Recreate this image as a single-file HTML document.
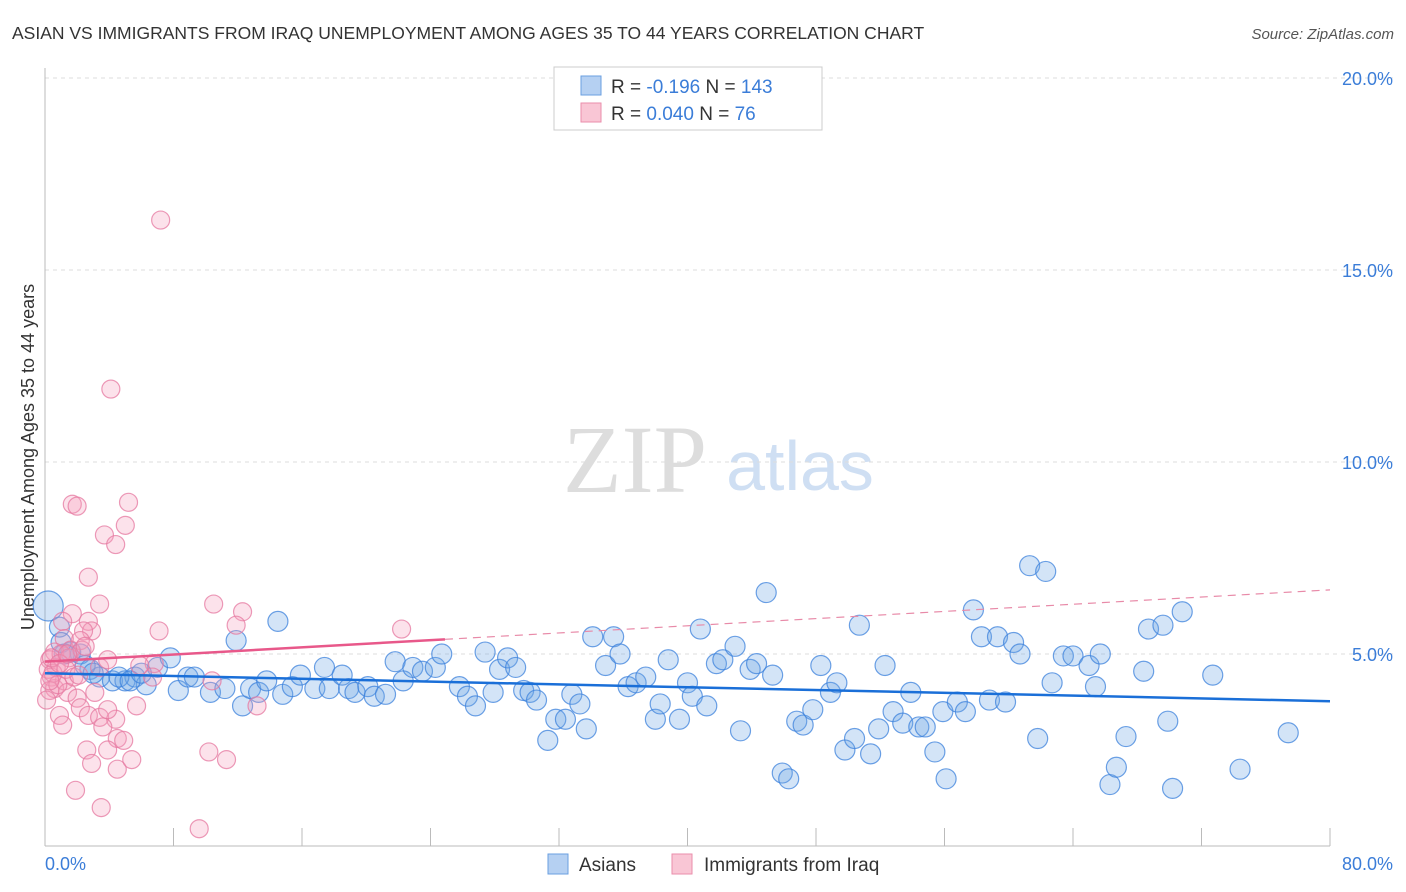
<!DOCTYPE html>
<html><head><meta charset="utf-8"><style>
body{margin:0;background:#fff;font-family:"Liberation Sans",sans-serif;}
svg{display:block}
</style></head><body>
<svg width="1406" height="892" id="chart">
<text x="12" y="39" font-size="17.5" fill="#333">ASIAN VS IMMIGRANTS FROM IRAQ UNEMPLOYMENT AMONG AGES 35 TO 44 YEARS CORRELATION CHART</text>
<text x="1394" y="39" font-size="15" fill="#555" font-style="italic" text-anchor="end">Source: ZipAtlas.com</text>
<text x="635" y="492" font-size="96" fill="#ddd" font-family="Liberation Serif,serif" text-anchor="middle">ZIP</text>
<text x="800" y="490" font-size="70" fill="#cfdff3" text-anchor="middle">atlas</text>
<text transform="translate(34,457) rotate(-90)" font-size="18" fill="#333" text-anchor="middle">Unemployment Among Ages 35 to 44 years</text>
<g id="grid"></g><g id="axes"></g><g id="pts"></g><g id="lines"></g>
<g>
<rect x="554" y="67" width="268" height="63" fill="#fff" stroke="#ccc"/>
<rect x="581" y="76" width="20" height="19" fill="#b5d0f2" stroke="#6a9fe0"/>
<rect x="581" y="103" width="20" height="19" fill="#f9c6d5" stroke="#ea8eab"/>
<text x="611" y="93" font-size="19" fill="#333">R = <tspan fill="#3b7dd8">-0.196</tspan>   N = <tspan fill="#3b7dd8">143</tspan></text>
<text x="611" y="120" font-size="19" fill="#333">R = <tspan fill="#3b7dd8">0.040</tspan>   N =  <tspan fill="#3b7dd8"> 76</tspan></text>
</g>
<g>
<rect x="548" y="854" width="20" height="20" fill="#b5d0f2" stroke="#6a9fe0"/>
<text x="579" y="871" font-size="19" fill="#333">Asians</text>
<rect x="672" y="854" width="20" height="20" fill="#f9c6d5" stroke="#ea8eab"/>
<text x="704" y="871" font-size="19" fill="#333">Immigrants from Iraq</text>
</g>
</svg>
<script>
const yTicks=[5,10,15,20];
const yTickLabels=["5.0%","10.0%","15.0%","20.0%"];
const xTickVals=[8,16,24,32,40,48,56,64,72,80];
const asianX=[0.2,0.9,1.6,2.2,2.8,3.4,4.2,4.98,5.6,6.3,7.0,7.8,8.3,8.9,9.3,10.3,11.2,11.9,12.3,12.8,13.3,13.8,14.5,14.8,15.4,15.9,16.8,17.4,17.7,18.5,18.9,19.3,20.1,20.5,21.2,21.8,22.3,22.9,23.5,24.3,24.7,25.8,26.3,26.8,27.4,27.9,28.3,28.8,29.3,29.8,30.2,30.6,31.3,31.8,32.4,32.8,33.3,33.7,34.1,34.9,35.4,35.8,36.3,36.8,37.4,38.0,38.3,38.8,39.5,40.0,40.3,40.8,41.2,41.8,42.2,42.96,43.3,43.9,44.3,44.9,45.3,45.9,46.3,46.8,47.2,47.8,48.3,48.9,49.3,49.8,50.4,50.7,51.4,51.9,52.3,52.8,53.4,53.9,54.4,54.8,55.4,55.9,56.1,56.8,57.3,57.8,58.3,58.8,59.3,59.8,60.3,60.7,61.3,61.8,62.3,62.7,63.4,64.0,65.0,65.4,65.7,66.3,66.7,67.3,68.4,68.7,69.6,69.9,70.2,70.8,72.7,74.4,77.4,1.2,2.5,3.0,4.6,5.3,6.0,1.0];
const asianY=[6.25,5.7,5.05,5.0,4.6,4.4,4.3,4.3,4.4,4.2,4.65,4.9,4.05,4.4,4.4,4.0,4.1,5.35,3.65,4.1,4.0,4.3,5.85,3.95,4.15,4.45,4.1,4.65,4.1,4.45,4.1,4.0,4.15,3.9,3.95,4.8,4.3,4.65,4.55,4.65,5.0,4.15,3.9,3.65,5.05,4.0,4.6,4.9,4.65,4.05,4.0,3.8,2.75,3.3,3.3,3.95,3.7,3.05,5.45,4.7,5.45,5.0,4.15,4.25,4.4,3.3,3.7,4.85,3.3,4.25,3.9,5.65,3.65,4.75,4.85,5.2,3.0,4.6,4.75,6.6,4.45,1.9,1.75,3.25,3.15,3.55,4.7,4.0,4.25,2.5,2.8,5.75,2.4,3.05,4.7,3.5,3.2,4.0,3.1,3.1,2.45,3.5,1.75,3.75,3.5,6.15,5.45,3.8,5.45,3.75,5.3,5.0,7.3,2.8,7.15,4.25,4.95,4.95,4.7,4.15,5.0,1.6,2.05,2.85,4.55,5.65,5.75,3.25,1.5,6.1,4.45,2.0,2.95,5.0,4.7,4.5,4.4,4.3,4.5,5.3];
const iraqX=[7.2,4.1,1.7,2.0,5.2,5.0,3.7,4.4,2.7,3.4,1.7,10.5,12.3,11.9,7.1,22.2,1.1,2.7,2.9,2.4,2.2,1.2,1.6,0.6,0.3,0.7,0.4,0.6,0.3,1.2,1.4,2.0,3.4,3.9,3.1,2.2,2.7,0.9,1.1,3.4,4.4,3.6,3.9,4.5,4.9,2.6,3.9,2.9,4.5,5.4,1.9,3.5,9.6,10.2,11.3,6.8,6.7,10.4,13.2,5.9,5.7,0.1,0.2,0.5,1.0,1.5,2.3,0.8,0.3,1.3,1.8,2.5,0.4,0.9,1.4,2.1];
const iraqY=[16.3,11.9,8.9,8.85,8.95,8.35,8.1,7.85,7.0,6.3,6.05,6.3,6.1,5.75,5.6,5.65,5.85,5.85,5.6,5.6,5.35,5.4,5.1,5.05,4.85,4.65,4.4,4.1,4.05,4.3,4.0,3.85,4.65,4.85,4.0,3.6,3.4,3.4,3.15,3.35,3.3,3.1,3.55,2.8,2.75,2.5,2.5,2.15,2.0,2.25,1.45,1.0,0.45,2.45,2.25,4.75,4.4,4.3,3.65,4.7,3.65,3.8,4.6,4.5,5.0,4.9,5.1,4.2,4.3,4.6,4.4,5.2,4.9,4.75,5.0,4.45];
const asianTrend=[4.5,3.77];
const iraqTrend=[4.8,6.67];
const iraqSolidEnd=24.9;
const X0=45,X1=1330,Y0=846,PXY=38.4;
const sx=v=>X0+(v/80)*(X1-X0);
const sy=v=>Y0-v*PXY;
const NS="http://www.w3.org/2000/svg";
function mk(tag,attrs,parent){const e=document.createElementNS(NS,tag);for(const k in attrs)e.setAttribute(k,attrs[k]);parent.appendChild(e);return e;}
const grid=document.getElementById('grid'),axes=document.getElementById('axes'),pts=document.getElementById('pts'),lines=document.getElementById('lines');
yTicks.forEach((t,i)=>{
 const l=mk('line',{x1:X0,x2:1393,y1:sy(t),y2:sy(t),stroke:'#ddd','stroke-dasharray':'4,4'},grid);
 
 
 const tx=mk('text',{x:1393,y:sy(t)+7,'font-size':18,fill:'#3b7dd8','text-anchor':'end'},grid);
 tx.textContent=yTickLabels[i];
 
 
});
const ya=mk('line',{x1:X0,x2:X0,y1:68,y2:Y0,stroke:'#bbb'},axes);


const xa=mk('line',{x1:X0,x2:X1,y1:Y0,y2:Y0,stroke:'#bbb'},axes);


xTickVals.forEach(v=>{
 const t=mk('line',{x1:sx(v),x2:sx(v),y1:828,y2:Y0,stroke:'#bbb'},axes);
 
 
});
const xl0=mk('text',{x:45,y:870,'font-size':18,fill:'#3b7dd8'},axes);xl0.textContent='0.0%';


const xl1=mk('text',{x:1393,y:870,'font-size':18,fill:'#3b7dd8','text-anchor':'end'},axes);xl1.textContent='80.0%';


asianX.forEach((x,i)=>{
 const r=(x<0.5&&asianY[i]>6)?15:10;
 const c=mk('circle',{cx:sx(x),cy:sy(asianY[i]),r:r,fill:'rgba(110,165,230,0.3)',stroke:'rgba(60,130,220,0.75)','stroke-width':1.2},pts);
 
 
});
iraqX.forEach((x,i)=>{
 const c=mk('circle',{cx:sx(x),cy:sy(iraqY[i]),r:9,fill:'rgba(245,160,190,0.3)',stroke:'rgba(230,120,160,0.75)','stroke-width':1.2},pts);
 
 
});
const bl=mk('line',{x1:sx(0),y1:sy(asianTrend[0]),x2:sx(80),y2:sy(asianTrend[1]),stroke:'#1a6fd8','stroke-width':2.5},lines);


const ie=iraqTrend[0]+(iraqTrend[1]-iraqTrend[0])*iraqSolidEnd/80;
const pl=mk('line',{x1:sx(0),y1:sy(iraqTrend[0]),x2:sx(iraqSolidEnd),y2:sy(ie),stroke:'#e8588a','stroke-width':2.5},lines);


const pd=mk('line',{x1:sx(iraqSolidEnd),y1:sy(ie),x2:sx(80),y2:sy(iraqTrend[1]),stroke:'#e88aa8','stroke-width':1.2,'stroke-dasharray':'8,6'},lines);


</script>
</body></html>
